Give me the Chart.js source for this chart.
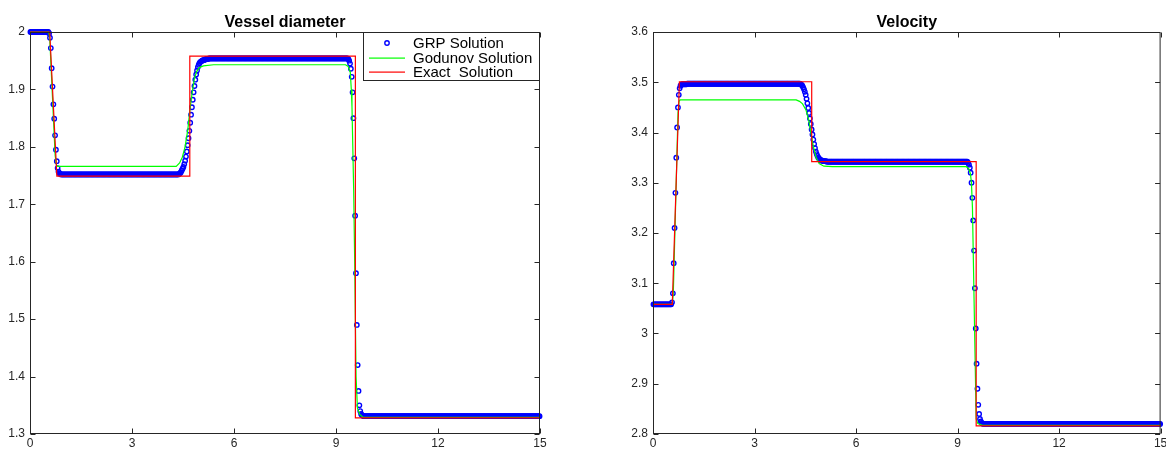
<!DOCTYPE html>
<html>
<head>
<meta charset="utf-8">
<script src="https://cdn.jsdelivr.net/npm/chart.js@4.4.1/dist/chart.umd.min.js"></script>
<style>
  html, body { margin: 0; padding: 0; background: #fff; }
  #wrap { position: relative; width: 1166px; height: 449px; overflow: hidden; }
  .panel { position: absolute; top: 0; width: 583px; height: 449px; }
</style>
</head>
<body>
<div id="wrap">
  <div class="panel" style="left:0"><canvas id="diam"></canvas></div>
  <div class="panel" style="left:583px"><canvas id="vel"></canvas></div>
</div>
<script>
// axis ticks
const xTickValues = [0, 3, 6, 9, 12, 15];
const xTickLabels = ["0", "3", "6", "9", "12", "15"];
const diamTickValues = [1.3, 1.4, 1.5, 1.6, 1.7, 1.8, 1.9, 2];
const diamTickLabels = ["1.3", "1.4", "1.5", "1.6", "1.7", "1.8", "1.9", "2"];
const velTickValues = [2.8, 2.9, 3, 3.1, 3.2, 3.3, 3.4, 3.5, 3.6];
const velTickLabels = ["2.8", "2.9", "3", "3.1", "3.2", "3.3", "3.4", "3.5", "3.6"];

const legendLabels = ["GRP Solution", "Godunov Solution", "Exact  Solution"];

// GRP cell values, 600 cells on [0,15], one row = 0.5 length unit
const cellWidth = 0.025;
const grpDiameter = [
  2,2,2,2,2,2,2,2,2,2,2,2,2,2,2,2,2,2,2,2,
  2,2,1.998,1.99,1.972,1.937,1.905,1.874,1.849,1.82,1.795,1.775,1.763,1.757,1.754,1.753,1.752,1.752,1.752,1.752,
  1.752,1.752,1.752,1.752,1.752,1.752,1.752,1.752,1.752,1.752,1.752,1.752,1.752,1.752,1.752,1.752,1.752,1.752,1.752,1.752,
  1.752,1.752,1.752,1.752,1.752,1.752,1.752,1.752,1.752,1.752,1.752,1.752,1.752,1.752,1.752,1.752,1.752,1.752,1.752,1.752,
  1.752,1.752,1.752,1.752,1.752,1.752,1.752,1.752,1.752,1.752,1.752,1.752,1.752,1.752,1.752,1.752,1.752,1.752,1.752,1.752,
  1.752,1.752,1.752,1.752,1.752,1.752,1.752,1.752,1.752,1.752,1.752,1.752,1.752,1.752,1.752,1.752,1.752,1.752,1.752,1.752,
  1.752,1.752,1.752,1.752,1.752,1.752,1.752,1.752,1.752,1.752,1.752,1.752,1.752,1.752,1.752,1.752,1.752,1.752,1.752,1.752,
  1.752,1.752,1.752,1.752,1.752,1.752,1.752,1.752,1.752,1.752,1.752,1.752,1.752,1.752,1.752,1.752,1.752,1.752,1.752,1.752,
  1.752,1.752,1.752,1.752,1.752,1.752,1.752,1.752,1.752,1.752,1.752,1.752,1.752,1.752,1.752,1.753,1.754,1.756,1.759,1.762,
  1.765,1.770,1.776,1.783,1.792,1.803,1.815,1.828,1.842,1.856,1.869,1.882,1.895,1.906,1.917,1.926,1.933,1.939,1.943,1.946,
  1.948,1.949,1.950,1.951,1.951,1.952,1.952,1.953,1.953,1.953,1.954,1.954,1.954,1.954,1.954,1.954,1.954,1.954,1.954,1.954,
  1.954,1.954,1.954,1.954,1.954,1.954,1.954,1.954,1.954,1.954,1.954,1.954,1.954,1.954,1.954,1.954,1.954,1.954,1.954,1.954,
  1.954,1.954,1.954,1.954,1.954,1.954,1.954,1.954,1.954,1.954,1.954,1.954,1.954,1.954,1.954,1.954,1.954,1.954,1.954,1.954,
  1.954,1.954,1.954,1.954,1.954,1.954,1.954,1.954,1.954,1.954,1.954,1.954,1.954,1.954,1.954,1.954,1.954,1.954,1.954,1.954,
  1.954,1.954,1.954,1.954,1.954,1.954,1.954,1.954,1.954,1.954,1.954,1.954,1.954,1.954,1.954,1.954,1.954,1.954,1.954,1.954,
  1.954,1.954,1.954,1.954,1.954,1.954,1.954,1.954,1.954,1.954,1.954,1.954,1.954,1.954,1.954,1.954,1.954,1.954,1.954,1.954,
  1.954,1.954,1.954,1.954,1.954,1.954,1.954,1.954,1.954,1.954,1.954,1.954,1.954,1.954,1.954,1.954,1.954,1.954,1.954,1.954,
  1.954,1.954,1.954,1.954,1.954,1.954,1.954,1.954,1.954,1.954,1.954,1.954,1.954,1.954,1.954,1.954,1.954,1.954,1.954,1.954,
  1.954,1.954,1.954,1.954,1.954,1.954,1.954,1.954,1.954,1.954,1.954,1.954,1.954,1.954,1.953,1.950,1.945,1.936,1.922,1.895,
  1.85,1.78,1.68,1.58,1.49,1.42,1.375,1.35,1.34,1.335,1.333,1.332,1.331,1.331,1.331,1.331,1.331,1.331,1.331,1.331,
  1.331,1.331,1.331,1.331,1.331,1.331,1.331,1.331,1.331,1.331,1.331,1.331,1.331,1.331,1.331,1.331,1.331,1.331,1.331,1.331,
  1.331,1.331,1.331,1.331,1.331,1.331,1.331,1.331,1.331,1.331,1.331,1.331,1.331,1.331,1.331,1.331,1.331,1.331,1.331,1.331,
  1.331,1.331,1.331,1.331,1.331,1.331,1.331,1.331,1.331,1.331,1.331,1.331,1.331,1.331,1.331,1.331,1.331,1.331,1.331,1.331,
  1.331,1.331,1.331,1.331,1.331,1.331,1.331,1.331,1.331,1.331,1.331,1.331,1.331,1.331,1.331,1.331,1.331,1.331,1.331,1.331,
  1.331,1.331,1.331,1.331,1.331,1.331,1.331,1.331,1.331,1.331,1.331,1.331,1.331,1.331,1.331,1.331,1.331,1.331,1.331,1.331,
  1.331,1.331,1.331,1.331,1.331,1.331,1.331,1.331,1.331,1.331,1.331,1.331,1.331,1.331,1.331,1.331,1.331,1.331,1.331,1.331,
  1.331,1.331,1.331,1.331,1.331,1.331,1.331,1.331,1.331,1.331,1.331,1.331,1.331,1.331,1.331,1.331,1.331,1.331,1.331,1.331,
  1.331,1.331,1.331,1.331,1.331,1.331,1.331,1.331,1.331,1.331,1.331,1.331,1.331,1.331,1.331,1.331,1.331,1.331,1.331,1.331,
  1.331,1.331,1.331,1.331,1.331,1.331,1.331,1.331,1.331,1.331,1.331,1.331,1.331,1.331,1.331,1.331,1.331,1.331,1.331,1.331,
  1.331,1.331,1.331,1.331,1.331,1.331,1.331,1.331,1.331,1.331,1.331,1.331,1.331,1.331,1.331,1.331,1.331,1.331,1.331,1.331,
];
const grpVelocity = [
  3.058,3.058,3.058,3.058,3.058,3.058,3.058,3.058,3.058,3.058,3.058,3.058,3.058,3.058,3.058,3.058,3.058,3.058,3.058,3.058,
  3.058,3.058,3.062,3.08,3.14,3.21,3.28,3.35,3.41,3.45,3.475,3.488,3.493,3.495,3.496,3.496,3.496,3.496,3.496,3.496,
  3.497,3.497,3.497,3.497,3.497,3.497,3.497,3.497,3.497,3.497,3.497,3.497,3.497,3.497,3.497,3.497,3.497,3.497,3.497,3.497,
  3.497,3.497,3.497,3.497,3.497,3.497,3.497,3.497,3.497,3.497,3.497,3.497,3.497,3.497,3.497,3.497,3.497,3.497,3.497,3.497,
  3.497,3.497,3.497,3.497,3.497,3.497,3.497,3.497,3.497,3.497,3.497,3.497,3.497,3.497,3.497,3.497,3.497,3.497,3.497,3.497,
  3.497,3.497,3.497,3.497,3.497,3.497,3.497,3.497,3.497,3.497,3.497,3.497,3.497,3.497,3.497,3.497,3.497,3.497,3.497,3.497,
  3.497,3.497,3.497,3.497,3.497,3.497,3.497,3.497,3.497,3.497,3.497,3.497,3.497,3.497,3.497,3.497,3.497,3.497,3.497,3.497,
  3.497,3.497,3.497,3.497,3.497,3.497,3.497,3.497,3.497,3.497,3.497,3.497,3.497,3.497,3.497,3.497,3.497,3.497,3.497,3.497,
  3.497,3.497,3.497,3.497,3.497,3.497,3.497,3.497,3.497,3.497,3.497,3.497,3.497,3.497,3.496,3.495,3.493,3.490,3.486,3.481,
  3.475,3.467,3.458,3.449,3.439,3.428,3.417,3.406,3.396,3.386,3.377,3.369,3.362,3.357,3.353,3.350,3.348,3.346,3.345,3.344,
  3.344,3.343,3.343,3.343,3.343,3.342,3.342,3.342,3.342,3.342,3.342,3.342,3.342,3.342,3.342,3.342,3.342,3.342,3.342,3.342,
  3.342,3.342,3.342,3.342,3.342,3.342,3.342,3.342,3.342,3.342,3.342,3.342,3.342,3.342,3.342,3.342,3.342,3.342,3.342,3.342,
  3.342,3.342,3.342,3.342,3.342,3.342,3.342,3.342,3.342,3.342,3.342,3.342,3.342,3.342,3.342,3.342,3.342,3.342,3.342,3.342,
  3.342,3.342,3.342,3.342,3.342,3.342,3.342,3.342,3.342,3.342,3.342,3.342,3.342,3.342,3.342,3.342,3.342,3.342,3.342,3.342,
  3.342,3.342,3.342,3.342,3.342,3.342,3.342,3.342,3.342,3.342,3.342,3.342,3.342,3.342,3.342,3.342,3.342,3.342,3.342,3.342,
  3.342,3.342,3.342,3.342,3.342,3.342,3.342,3.342,3.342,3.342,3.342,3.342,3.342,3.342,3.342,3.342,3.342,3.342,3.342,3.342,
  3.342,3.342,3.342,3.342,3.342,3.342,3.342,3.342,3.342,3.342,3.342,3.342,3.342,3.342,3.342,3.342,3.342,3.342,3.342,3.342,
  3.342,3.342,3.342,3.342,3.342,3.342,3.342,3.342,3.342,3.342,3.342,3.342,3.342,3.342,3.342,3.342,3.342,3.342,3.342,3.342,
  3.342,3.342,3.342,3.342,3.342,3.342,3.342,3.342,3.342,3.342,3.342,3.342,3.340,3.336,3.330,3.320,3.300,3.270,3.225,3.165,
  3.09,3.01,2.94,2.89,2.858,2.84,2.83,2.825,2.822,2.821,2.82,2.82,2.82,2.82,2.82,2.82,2.82,2.82,2.82,2.82,
  2.82,2.82,2.82,2.82,2.82,2.82,2.82,2.82,2.82,2.82,2.82,2.82,2.82,2.82,2.82,2.82,2.82,2.82,2.82,2.82,
  2.82,2.82,2.82,2.82,2.82,2.82,2.82,2.82,2.82,2.82,2.82,2.82,2.82,2.82,2.82,2.82,2.82,2.82,2.82,2.82,
  2.82,2.82,2.82,2.82,2.82,2.82,2.82,2.82,2.82,2.82,2.82,2.82,2.82,2.82,2.82,2.82,2.82,2.82,2.82,2.82,
  2.82,2.82,2.82,2.82,2.82,2.82,2.82,2.82,2.82,2.82,2.82,2.82,2.82,2.82,2.82,2.82,2.82,2.82,2.82,2.82,
  2.82,2.82,2.82,2.82,2.82,2.82,2.82,2.82,2.82,2.82,2.82,2.82,2.82,2.82,2.82,2.82,2.82,2.82,2.82,2.82,
  2.82,2.82,2.82,2.82,2.82,2.82,2.82,2.82,2.82,2.82,2.82,2.82,2.82,2.82,2.82,2.82,2.82,2.82,2.82,2.82,
  2.82,2.82,2.82,2.82,2.82,2.82,2.82,2.82,2.82,2.82,2.82,2.82,2.82,2.82,2.82,2.82,2.82,2.82,2.82,2.82,
  2.82,2.82,2.82,2.82,2.82,2.82,2.82,2.82,2.82,2.82,2.82,2.82,2.82,2.82,2.82,2.82,2.82,2.82,2.82,2.82,
  2.82,2.82,2.82,2.82,2.82,2.82,2.82,2.82,2.82,2.82,2.82,2.82,2.82,2.82,2.82,2.82,2.82,2.82,2.82,2.82,
  2.82,2.82,2.82,2.82,2.82,2.82,2.82,2.82,2.82,2.82,2.82,2.82,2.82,2.82,2.82,2.82,2.82,2.82,2.82,2.82,
];

// Godunov and exact curves as (x, y) vertices
const godunovDiamX = [0, 0.55, 0.58, 0.74, 0.78, 0.82, 4.3, 4.4, 4.48, 4.56, 4.64, 4.71, 4.78, 4.84, 4.9, 4.98, 5.1, 5.4, 9.28, 9.36, 9.42, 9.45, 9.47, 9.52, 9.55, 9.59, 9.63, 9.7, 9.8, 15];
const godunovDiamY = [2, 2, 1.99, 1.785, 1.768, 1.766, 1.766, 1.772, 1.782, 1.8, 1.829, 1.868, 1.899, 1.92, 1.931, 1.938, 1.941, 1.943, 1.943, 1.94, 1.93, 1.9, 1.87, 1.725, 1.6, 1.4, 1.345, 1.334, 1.329, 1.329];
const exactDiamX = [0, 0.58, 0.79, 4.7, 4.7, 9.57, 9.57, 15];
const exactDiamY = [2, 2, 1.749, 1.749, 1.958, 1.958, 1.328, 1.328];

const godunovVelX = [0, 0.57, 0.6, 0.74, 0.77, 0.8, 4.23, 4.33, 4.42, 4.52, 4.6, 4.67, 4.74, 4.82, 4.91, 5.05, 5.3, 9.26, 9.33, 9.38, 9.41, 9.44, 9.55, 9.6, 9.75, 15];
const godunovVelY = [3.058, 3.058, 3.08, 3.44, 3.462, 3.465, 3.465, 3.462, 3.457, 3.445, 3.425, 3.398, 3.372, 3.35, 3.338, 3.333, 3.332, 3.332, 3.328, 3.318, 3.3, 3.25, 2.83, 2.821, 2.817, 2.817];
const exactVelX = [0, 0.57, 0.78, 4.69, 4.69, 9.55, 9.55, 15];
const exactVelY = [3.058, 3.058, 3.501, 3.501, 3.342, 3.342, 2.816, 2.816];

const BLUE = "#0000ff";
const GREEN = "#00ff00";
const RED = "#ff0000";
const AXIS = "#262626";
const FONT = '"Liberation Sans", Arial, Helvetica, sans-serif';

const toCells = (vals) => vals.map((y, i) => ({ x: (i + 0.5) * cellWidth, y }));
const toPoints = (xs, ys) => xs.map((x, i) => ({ x, y: ys[i] }));

// MATLAB style frame: box, inward ticks, title, optional legend
function framePlugin(title, withLegend) {
  return {
    id: "frame",
    afterDraw(chart) {
      const { ctx, chartArea: a, scales } = chart;
      const L = a.left + 0.5, R = a.right - 0.5, T = a.top + 0.5, B = a.bottom - 0.5;
      ctx.save();
      ctx.strokeStyle = AXIS;
      ctx.lineWidth = 1;
      ctx.strokeRect(L, T, R - L, B - T);
      ctx.beginPath();
      for (const t of scales.x.ticks) {
        const px = Math.round(scales.x.getPixelForValue(t.value)) + 0.5;
        ctx.moveTo(px, B); ctx.lineTo(px, B - 5);
        ctx.moveTo(px, T); ctx.lineTo(px, T + 5);
      }
      for (const t of scales.y.ticks) {
        const py = Math.round(scales.y.getPixelForValue(t.value)) + 0.5;
        ctx.moveTo(L, py); ctx.lineTo(L + 5, py);
        ctx.moveTo(R, py); ctx.lineTo(R - 5, py);
      }
      ctx.stroke();

      ctx.fillStyle = "#000";
      ctx.font = "bold 16px " + FONT;
      ctx.textAlign = "center";
      ctx.textBaseline = "alphabetic";
      ctx.fillText(title, (a.left + a.right) / 2, 27);

      if (withLegend) {
        const lw = 177, lh = 49;
        const lx = a.right - lw, ly = a.top;
        ctx.fillStyle = "#fff";
        ctx.fillRect(lx, ly, lw, lh);
        ctx.strokeStyle = AXIS;
        ctx.lineWidth = 1;
        ctx.strokeRect(lx + 0.5, ly + 0.5, lw - 1, lh - 1);
        const rows = [ly + 11, ly + 26, ly + 40];
        ctx.strokeStyle = BLUE;
        ctx.lineWidth = 1.4;
        ctx.beginPath();
        ctx.arc(lx + 24, rows[0], 2.2, 0, Math.PI * 2);
        ctx.stroke();
        ctx.fillStyle = GREEN;
        ctx.fillRect(lx + 6, rows[1] - 0.5, 36, 1.2);
        ctx.fillStyle = RED;
        ctx.fillRect(lx + 6, rows[2] - 0.5, 36, 1.2);
        ctx.fillStyle = "#000";
        ctx.font = "15px " + FONT;
        ctx.textAlign = "left";
        ctx.textBaseline = "middle";
        legendLabels.forEach((s, i) => ctx.fillText(s, lx + 50, rows[i] + 1));
      }
      ctx.restore();
    },
  };
}

function buildChart(id, cfg) {
  const ctx = document.getElementById(id).getContext("2d");
  return new Chart(ctx, {
    type: "scatter",
    data: {
      datasets: [
        { label: legendLabels[2], data: cfg.exact, showLine: true, borderColor: RED, borderWidth: 1.2, pointRadius: 0, order: 1, clip: false },
        { label: legendLabels[1], data: cfg.godunov, showLine: true, borderColor: GREEN, borderWidth: 1.2, pointRadius: 0, order: 2, clip: false },
        { label: legendLabels[0], data: cfg.grp, showLine: false, pointStyle: "circle", pointRadius: 2.2, pointBorderWidth: 1.4, borderColor: BLUE, backgroundColor: "rgba(0,0,0,0)", order: 3, clip: false },
      ],
    },
    options: {
      responsive: true,
      maintainAspectRatio: false,
      devicePixelRatio: 1,
      animation: false,
      events: [],
      layout: { padding: { left: 0, right: cfg.padRight, top: 32, bottom: 0 } },
      scales: {
        x: {
          type: "linear",
          min: 0,
          max: 15,
          grid: { display: false, drawTicks: false },
          border: { display: false },
          ticks: {
            autoSkip: false,
            maxRotation: 0,
            padding: 2,
            color: AXIS,
            font: { size: 12, family: FONT },
            callback: (v, i) => xTickLabels[i],
          },
          afterBuildTicks: (s) => { s.ticks = xTickValues.map((v) => ({ value: v })); },
          afterFit: (s) => { s.height = 15; s.paddingLeft = 0; s.paddingRight = 0; },
        },
        y: {
          type: "linear",
          min: cfg.yTicks[0],
          max: cfg.yTicks[cfg.yTicks.length - 1],
          grid: { display: false, drawTicks: false },
          border: { display: false },
          ticks: {
            autoSkip: false,
            padding: 5,
            color: AXIS,
            font: { size: 12, family: FONT },
            callback: (v, i) => cfg.yLabels[i],
          },
          afterBuildTicks: (s) => { s.ticks = cfg.yTicks.map((v) => ({ value: v })); },
          afterFit: (s) => { s.width = cfg.yWidth; s.paddingTop = 0; s.paddingBottom = 0; },
        },
      },
      plugins: { legend: { display: false }, tooltip: { enabled: false } },
    },
    plugins: [framePlugin(cfg.title, cfg.legend)],
  });
}

buildChart("diam", {
  title: "Vessel diameter",
  legend: true,
  grp: toCells(grpDiameter),
  godunov: toPoints(godunovDiamX, godunovDiamY),
  exact: toPoints(exactDiamX, exactDiamY),
  yTicks: diamTickValues,
  yLabels: diamTickLabels,
  yWidth: 30,
  padRight: 43,
});

buildChart("vel", {
  title: "Velocity",
  legend: false,
  grp: toCells(grpVelocity),
  godunov: toPoints(godunovVelX, godunovVelY),
  exact: toPoints(exactVelX, exactVelY),
  yTicks: velTickValues,
  yLabels: velTickLabels,
  yWidth: 70,
  padRight: 2,
});
</script>
</body>
</html>
